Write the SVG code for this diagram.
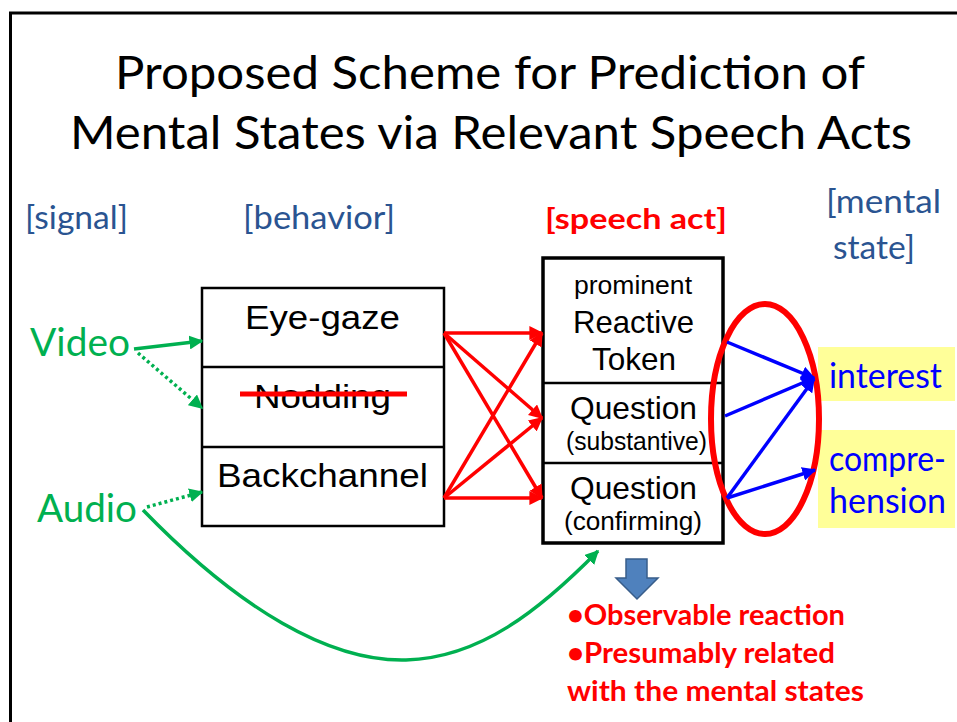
<svg xmlns="http://www.w3.org/2000/svg" width="957" height="722" viewBox="0 0 957 722">
  <style>
    .cal { font-family: Lato, "Open Sans", "Liberation Sans", sans-serif; }
    .ari { font-family: "Liberation Sans", Arial, sans-serif; fill: #000; }
    .head { fill: #2A5491; font-size: 33px; }
    .sig { fill: #00B050; font-size: 38px; }
    .ms { fill: #0000FF; font-size: 34px; }
    .note { fill: #FF0000; font-size: 28px; font-weight: bold; }
    .box { fill: #fff; stroke: #000; stroke-width: 2.5; }
    .div { stroke: #000; stroke-width: 2.5; }
    .red { stroke: #FF0000; stroke-width: 3.5; fill: none; marker-end: url(#ahRed); }
    .blue { stroke: #0000FF; stroke-width: 3.5; fill: none; marker-end: url(#ahBlue); }
    .grn { stroke: #00B050; stroke-width: 3.5; fill: none; marker-end: url(#ahGreen); }
    .dot { stroke-dasharray: 3 3; }
  </style>
  <defs>
    <marker id="ahRed" viewBox="0 0 10 10" refX="9" refY="5" markerWidth="4" markerHeight="4" orient="auto" markerUnits="strokeWidth">
      <path d="M0,0 L10,5 L0,10 z" fill="#FF0000"/>
    </marker>
    <marker id="ahBlue" viewBox="0 0 10 10" refX="9" refY="5" markerWidth="4" markerHeight="4" orient="auto" markerUnits="strokeWidth">
      <path d="M0,0 L10,5 L0,10 z" fill="#0000FF"/>
    </marker>
    <marker id="ahGreen" viewBox="0 0 10 10" refX="9" refY="5" markerWidth="4" markerHeight="4" orient="auto" markerUnits="strokeWidth">
      <path d="M0,0 L10,5 L0,10 z" fill="#00B050"/>
    </marker>
  </defs>

  <rect width="957" height="722" fill="#fff"/>
  <!-- slide frame -->
  <path d="M10.5,722 L10.5,13 L957,13" fill="none" stroke="#000" stroke-width="3"/>

  <!-- title -->
  <g id="title" class="cal" fill="#000" font-size="46" text-anchor="middle">
    <text x="490" y="89" textLength="750" lengthAdjust="spacingAndGlyphs">Proposed Scheme for Prediction of</text>
    <text x="491" y="149" textLength="842" lengthAdjust="spacingAndGlyphs">Mental States via Relevant Speech Acts</text>
  </g>

  <!-- column headings -->
  <g id="headings" class="cal">
    <text class="head" x="25" y="229" textLength="103" lengthAdjust="spacingAndGlyphs">[signal]</text>
    <text class="head" x="243" y="229" textLength="152" lengthAdjust="spacingAndGlyphs">[behavior]</text>
    <text class="note" x="545" y="229" font-size="33" textLength="182" lengthAdjust="spacingAndGlyphs">[speech act]</text>
    <text class="head" x="826" y="213" textLength="115" lengthAdjust="spacingAndGlyphs">[mental</text>
    <text class="head" x="833" y="259" textLength="82" lengthAdjust="spacingAndGlyphs">state]</text>
  </g>

  <!-- signals -->
  <g id="video" class="cal"><text class="sig" x="30" y="356" textLength="100" lengthAdjust="spacingAndGlyphs">Video</text></g>
  <g id="audio" class="cal"><text class="sig" x="37" y="522" textLength="100" lengthAdjust="spacingAndGlyphs">Audio</text></g>

  <!-- behavior box -->
  <g id="behavior">
    <rect class="box" x="202" y="288" width="242" height="238"/>
    <line class="div" x1="202" y1="367" x2="444" y2="367"/>
    <line class="div" x1="202" y1="447" x2="444" y2="447"/>
    <text class="ari" x="245" y="329" font-size="34" textLength="155" lengthAdjust="spacingAndGlyphs">Eye-gaze</text>
    <text class="ari" x="254" y="408" font-size="34" textLength="137" lengthAdjust="spacingAndGlyphs">Nodding</text>
    <line x1="240" y1="394" x2="407" y2="394" stroke="#FF0000" stroke-width="5"/>
    <text class="ari" x="217" y="487" font-size="34" textLength="211" lengthAdjust="spacingAndGlyphs">Backchannel</text>
  </g>

  <!-- speech act box -->
  <g id="speech-act">
    <rect x="543" y="258" width="180" height="285" fill="#fff" stroke="#000" stroke-width="3.5"/>
    <line class="div" x1="543" y1="383" x2="723" y2="383"/>
    <line class="div" x1="543" y1="463" x2="723" y2="463"/>
    <text class="ari" x="574" y="294" font-size="25" textLength="118" lengthAdjust="spacingAndGlyphs">prominent</text>
    <text class="ari" x="573" y="333" font-size="32" textLength="121" lengthAdjust="spacingAndGlyphs">Reactive</text>
    <text class="ari" x="592" y="370" font-size="32" textLength="84" lengthAdjust="spacingAndGlyphs">Token</text>
    <text class="ari" x="570" y="419" font-size="32" textLength="127" lengthAdjust="spacingAndGlyphs">Question</text>
    <text class="ari" x="566" y="450" font-size="25" textLength="141" lengthAdjust="spacingAndGlyphs">(substantive)</text>
    <text class="ari" x="570" y="499" font-size="32" textLength="127" lengthAdjust="spacingAndGlyphs">Question</text>
    <text class="ari" x="564" y="530" font-size="25" textLength="138" lengthAdjust="spacingAndGlyphs">(confirming)</text>
  </g>

  <!-- mental states -->
  <g id="interest">
    <rect x="818" y="347" width="137" height="54" fill="#FFFF99"/>
    <text class="cal ms" x="829" y="388" textLength="113" lengthAdjust="spacingAndGlyphs">interest</text>
  </g>
  <g id="comprehension">
    <rect x="818" y="430" width="137" height="98" fill="#FFFF99"/>
    <text class="cal ms" x="829" y="471" textLength="117" lengthAdjust="spacingAndGlyphs">compre-</text>
    <text class="cal ms" x="829" y="513" textLength="117" lengthAdjust="spacingAndGlyphs">hension</text>
  </g>

  <!-- grouping ellipse -->
  <g id="speech-act-group">
    <ellipse cx="765" cy="419" rx="54" ry="115" fill="none" stroke="#FF0000" stroke-width="6"/>
  </g>

  <!-- observation note -->
  <g id="note">
    <path d="M626,559 L647,559 L647,578 L658,578 L637,599 L616,578 L626,578 z" fill="#4F81BD" stroke="#385D8A" stroke-width="1.5"/>
    <text class="cal note" x="567" y="625" textLength="278" lengthAdjust="spacingAndGlyphs">•Observable reaction</text>
    <text class="cal note" x="567" y="663" textLength="268" lengthAdjust="spacingAndGlyphs">•Presumably related</text>
    <text class="cal note" x="567" y="701" textLength="297" lengthAdjust="spacingAndGlyphs">with the mental states</text>
  </g>

  <!-- connectors -->
  <g id="connectors">
    <line class="grn" x1="134" y1="349" x2="202" y2="341"/>
    <line class="grn dot" x1="138" y1="353" x2="202" y2="408"/>
    <line class="grn dot" x1="147" y1="507" x2="202" y2="492"/>
    <path class="grn" d="M143,510 C240,610 330,662 406,660 C480,658 540,610 598,551"/>

    <line class="red" x1="444" y1="333" x2="542" y2="333"/>
    <line class="red" x1="444" y1="333" x2="542" y2="418"/>
    <line class="red" x1="444" y1="333" x2="542" y2="498"/>
    <line class="red" x1="444" y1="498" x2="542" y2="333"/>
    <line class="red" x1="444" y1="498" x2="542" y2="418"/>
    <line class="red" x1="444" y1="498" x2="542" y2="498"/>

    <line class="blue" x1="727" y1="342" x2="814" y2="378"/>
    <line class="blue" x1="725" y1="416" x2="814" y2="378"/>
    <line class="blue" x1="727" y1="498" x2="814" y2="379"/>
    <line class="blue" x1="727" y1="498" x2="815" y2="470"/>
  </g>
</svg>
